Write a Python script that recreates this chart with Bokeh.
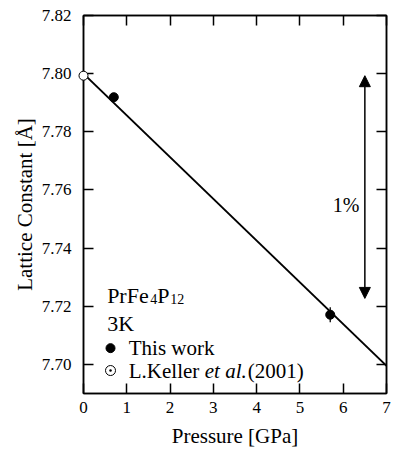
from bokeh.plotting import figure
from bokeh.models import (FixedTicker, LinearAxis, Range1d, Label, Arrow,
                          NormalHead, PrintfTickFormatter, CustomJSTickFormatter)
from bokeh.embed import file_html
from bokeh.resources import INLINE

# ---- data ----
pressure_this = [0.7, 5.7]
lattice_this = [7.7919, 7.7171]
err_this = [0.0012, 0.0026]
pressure_keller = [0.0]
lattice_keller = [7.7993]
fit_pressure = [0.0, 7.0]
fit_lattice = [7.8000, 7.6995]
x_ticks = [0, 1, 2, 3, 4, 5, 6, 7]
y_ticks = [7.70, 7.72, 7.74, 7.76, 7.78, 7.80, 7.82]
arrow_x = 6.5
arrow_top = 7.7993
arrow_bottom = 7.7227

FONT = "'Liberation Serif', 'Times New Roman', serif"

p = figure(width=396, height=453,
           x_range=Range1d(0, 7), y_range=Range1d(7.69, 7.82),
           output_backend="svg", toolbar_location=None,
           min_border_left=83, min_border_right=10,
           min_border_top=15, min_border_bottom=60)
p.xgrid.visible = False
p.ygrid.visible = False
p.outline_line_color = "black"
p.outline_line_width = 1.5
p.background_fill_color = "white"
p.border_fill_color = "white"

bottom = p.below[0]
left = p.left[0]
bottom.ticker = FixedTicker(ticks=x_ticks)
left.ticker = FixedTicker(ticks=y_ticks)
left.formatter = PrintfTickFormatter(format="%.2f")
bottom.axis_label = "Pressure [GPa]"
left.axis_label = "Lattice Constant [Å]"

blank = CustomJSTickFormatter(code="return ''")
top_axis = LinearAxis(ticker=FixedTicker(ticks=x_ticks), formatter=blank,
                      major_label_standoff=0)
right_axis = LinearAxis(ticker=FixedTicker(ticks=y_ticks), formatter=blank,
                        major_label_standoff=0)
p.add_layout(top_axis, "above")
p.add_layout(right_axis, "right")

for ax in (bottom, left, top_axis, right_axis):
    ax.major_tick_in = 10
    ax.major_tick_out = 0
    ax.minor_tick_in = 0
    ax.minor_tick_out = 0
    ax.major_tick_line_width = 1.5
    ax.major_tick_line_color = "black"
    ax.axis_line_width = 1.5
    ax.axis_line_color = "black"
    ax.major_label_text_font = FONT
    ax.major_label_text_color = "black"
    ax.axis_label_text_font = FONT
    ax.axis_label_text_font_style = "normal"
    ax.axis_label_text_color = "black"
    ax.axis_label_text_font_size = "21px"
    ax.major_label_text_font_size = "17px"

bottom.major_label_standoff = 8
left.major_label_standoff = 12
bottom.axis_label_standoff = 8
left.axis_label_standoff = 2

# fit line
p.line(fit_pressure, fit_lattice, line_color="black", line_width=1.8)

# error bars
p.segment(x0=pressure_this, x1=pressure_this,
          y0=[a - e for a, e in zip(lattice_this, err_this)],
          y1=[a + e for a, e in zip(lattice_this, err_this)],
          line_color="black", line_width=1.3)

# data points
p.scatter(pressure_this, lattice_this, size=9, marker="circle",
          fill_color="black", line_color="black")
p.scatter(pressure_keller, lattice_keller, size=9, marker="circle",
          fill_color="white", line_color="black", line_width=1, level="overlay")

# 1% arrow
p.add_layout(Arrow(start=NormalHead(size=11, fill_color="black", line_color="black", line_width=1),
                   end=NormalHead(size=11, fill_color="black", line_color="black", line_width=1),
                   x_start=arrow_x, y_start=arrow_bottom, x_end=arrow_x, y_end=arrow_top,
                   line_color="black", line_width=1.5))
p.add_layout(Label(x=6.375, y=7.7547, text="1%", text_font=FONT, text_font_size="20px",
                   text_align="right", text_baseline="middle", text_color="black"))

# compound label PrFe4P12 / 3K
cx, cy = 0.546, 7.7238
parts = [("PrFe", 0, 0, "22px"), ("4", 43, -4, "14px"),
         ("P", 50, 0, "22px"), ("12", 63, -4, "14px")]
for t, dx, dy, fs in parts:
    p.add_layout(Label(x=cx, y=cy, x_offset=dx, y_offset=dy, text=t, text_font=FONT,
                       text_font_size=fs, text_align="left",
                       text_baseline="alphabetic", text_color="black"))
p.add_layout(Label(x=cx, y=7.7141, text="3K", text_font=FONT, text_font_size="22px",
                   text_align="left", text_baseline="alphabetic", text_color="black"))

# legend
leg_x, leg_tx = 0.624, 1.046
leg_y1, leg_y2 = 7.7056, 7.6979
p.scatter([leg_x], [leg_y1], size=9, marker="circle", fill_color="black", line_color="black")
p.scatter([leg_x], [leg_y2], size=10, marker="circle_dot", fill_color="white",
          line_color="black", line_width=1)
p.add_layout(Label(x=leg_tx, y=leg_y1, text="This work", text_font=FONT, text_font_size="21px",
                   text_align="left", text_baseline="middle", text_color="black"))
for t, dx, style in [("L.Keller", 0, "normal"), ("et al.", 76, "italic"), ("(2001)", 119, "normal")]:
    p.add_layout(Label(x=leg_tx, y=leg_y2, x_offset=dx, text=t, text_font=FONT,
                       text_font_size="21px", text_font_style=style,
                       text_align="left", text_baseline="middle", text_color="black"))

open("out.html", "w").write(file_html(p, INLINE))
